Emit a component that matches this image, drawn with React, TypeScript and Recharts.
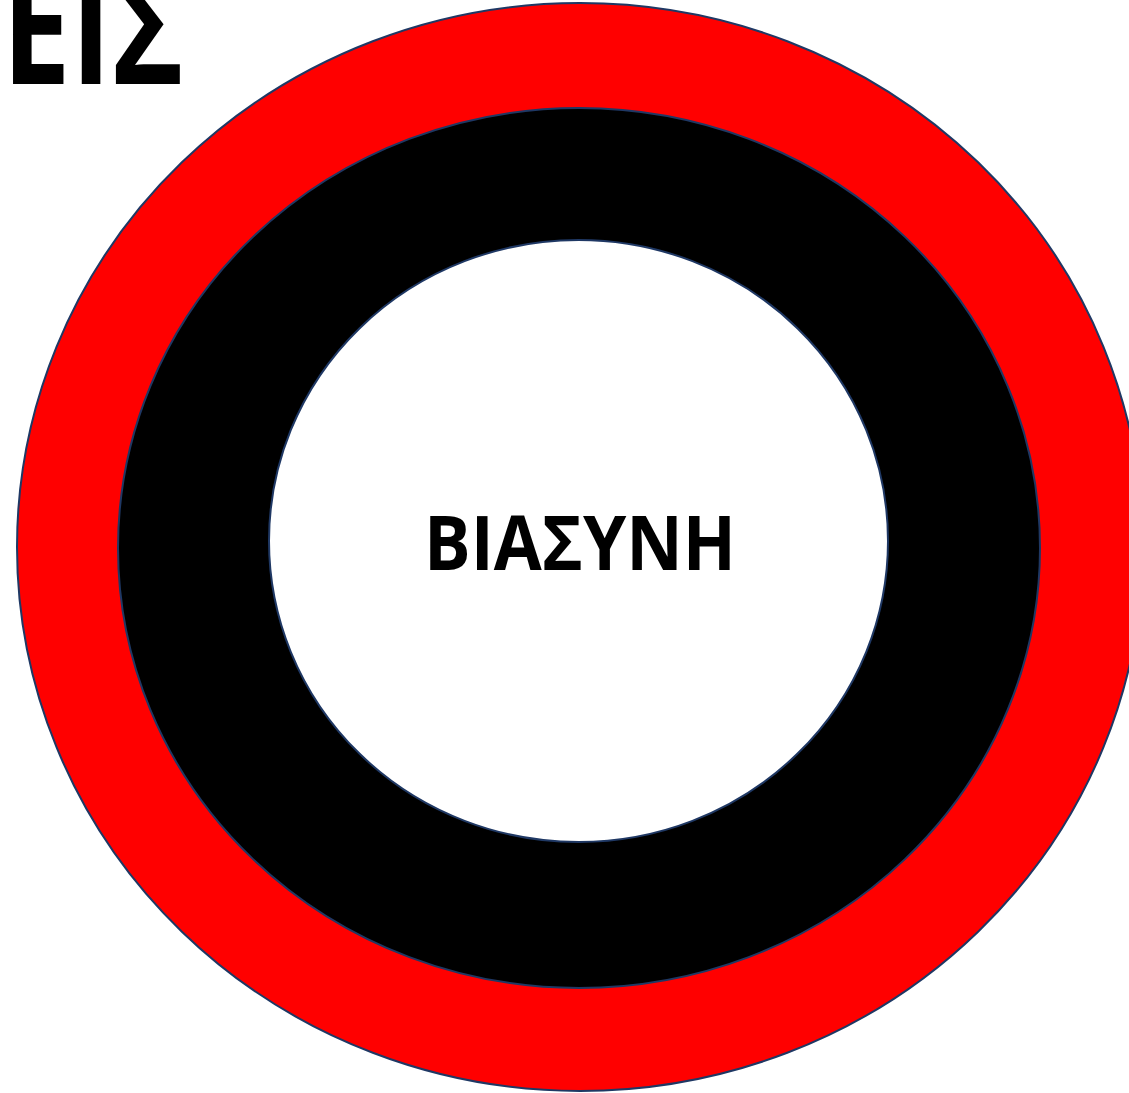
import React from 'react'
import { ComposedChart, XAxis, YAxis, ReferenceArea, Scatter } from 'recharts'

// ellipse bounds, in chart units (domain matches the picture)
const ringNames = ['outer', 'middle', 'inner']
const ringX1 = [17, 118, 269]
const ringX2 = [1143, 1040, 888]
const ringY1 = [3, 108, 240]
const ringY2 = [1091, 988, 842]
const ringFills = ['#ff0000', '#000000', '#ffffff']

// text labels (x = centre, y = baseline)
const labelText = ['ΕΙΣ', 'ΒΙΑΣΥΝΗ']
const labelX = [93, 580]
const labelY = [84, 570]
const labelSize = [160, 75]
const labelWidth = [182, 312]

const W = 1129
const H = 1093

const labels = labelText.map((t, i) => ({ x: labelX[i], y: labelY[i], text: t, size: labelSize[i], w: labelWidth[i] }))

const EllipseShape = (fill: string) => (props: any) => {
  const { x, y, width, height } = props
  return (
    <ellipse
      cx={x + width / 2}
      cy={y + height / 2}
      rx={Math.abs(width) / 2}
      ry={Math.abs(height) / 2}
      fill={fill}
      stroke="#1f3864"
      strokeWidth={2}
    />
  )
}

const TextShape = (props: any) => {
  const { cx, cy, payload } = props
  return (
    <text
      x={cx}
      y={cy}
      textAnchor="middle"
      textLength={payload.w}
      lengthAdjust="spacingAndGlyphs"
      fontFamily="'Open Sans', 'Noto Sans', sans-serif"
      fontWeight={700}
      fontSize={payload.size}
      fill="#000"
    >
      {payload.text}
    </text>
  )
}

export default function App() {
  return (
    <div style={{ position: 'absolute', top: 0, left: 0, width: W, height: H, background: '#fff', overflow: 'hidden' }}>
      <ComposedChart width={W} height={H} data={labels} margin={{ top: 0, right: 0, bottom: 0, left: 0 }}>
        <XAxis hide type="number" dataKey="x" domain={[0, W]} allowDataOverflow />
        <YAxis hide type="number" dataKey="y" domain={[0, H]} reversed allowDataOverflow width={0} />
        {ringNames.map((n, i) => (
          <ReferenceArea
            key={n}
            x1={ringX1[i]}
            x2={ringX2[i]}
            y1={ringY1[i]}
            y2={ringY2[i]}
            ifOverflow="visible"
            shape={EllipseShape(ringFills[i])}
          />
        ))}
        <Scatter data={labels} dataKey="y" shape={TextShape} isAnimationActive={false} />
      </ComposedChart>
    </div>
  )
}
